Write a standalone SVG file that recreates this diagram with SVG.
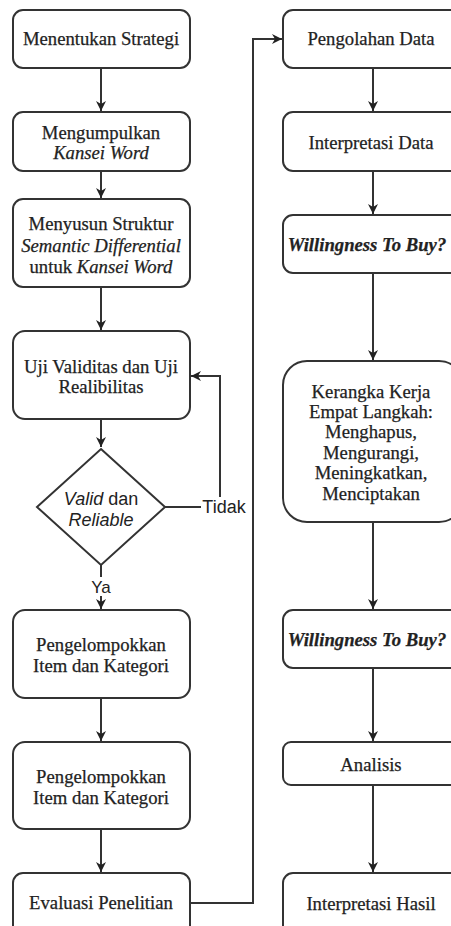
<svg xmlns="http://www.w3.org/2000/svg" width="451" height="926" viewBox="0 0 451 926">
<style>
.box{fill:#fff;stroke:#333;stroke-width:2}
.edge{fill:none;stroke:#333;stroke-width:2}
.t{font-family:"Liberation Serif","Times New Roman",serif;font-size:18.7px;fill:#222;stroke:#222;stroke-width:0.25;text-anchor:middle}
.s{font-family:"Liberation Sans",Arial,sans-serif;font-size:18px;fill:#222;text-anchor:middle}
.i{font-style:italic}
</style>
<defs>
<marker id="arr" viewBox="0 0 10 10" refX="10" refY="5" markerWidth="5" markerHeight="5" orient="auto" markerUnits="strokeWidth">
<path d="M0,0 L10,5 L0,10 L3,5 z" fill="#222"/>
</marker>
</defs>
<rect width="451" height="926" fill="#fff"/>
<g id="connectors">
<path class="edge" d="M101,68 V111" marker-end="url(#arr)"/>
<path class="edge" d="M101,171 V198" marker-end="url(#arr)"/>
<path class="edge" d="M101,287 V330" marker-end="url(#arr)"/>
<path class="edge" d="M101,419 V447" marker-end="url(#arr)"/>
<path class="edge" d="M165,507 H220 V376 H191" marker-end="url(#arr)"/>
<path class="edge" d="M101,565 V609" marker-end="url(#arr)"/>
<path class="edge" d="M101,698 V741" marker-end="url(#arr)"/>
<path class="edge" d="M101,829 V872" marker-end="url(#arr)"/>
<path class="edge" d="M190,903 H253 V39 H282" marker-end="url(#arr)"/>
<path class="edge" d="M373,68 V111" marker-end="url(#arr)"/>
<path class="edge" d="M373,171 V214" marker-end="url(#arr)"/>
<path class="edge" d="M373,273 V360" marker-end="url(#arr)"/>
<path class="edge" d="M373,522 V609" marker-end="url(#arr)"/>
<path class="edge" d="M373,668 V741" marker-end="url(#arr)"/>
<path class="edge" d="M373,785 V872" marker-end="url(#arr)"/>
<rect x="201" y="497" width="46" height="20" fill="#fff"/>
<text class="s" x="224" y="513">Tidak</text>
<rect x="90" y="577" width="22" height="19" fill="#fff"/>
<text class="s" x="101" y="593" style="font-size:17px">Ya</text>
</g>
<g id="n1"><rect class="box" x="13" y="10" width="177" height="58" rx="10"/><text class="t" x="101" y="45">Menentukan Strategi</text></g>
<g id="n2"><rect class="box" x="13" y="112" width="177" height="59" rx="10"/><text class="t" x="101" y="139">Mengumpulkan</text><text class="t i" x="101" y="159">Kansei Word</text></g>
<g id="n3"><rect class="box" x="13" y="199" width="177" height="88" rx="10"/><text class="t" x="101" y="230">Menyusun Struktur</text><text class="t i" x="101" y="252">Semantic Differential</text><text class="t" x="101" y="273">untuk <tspan class="i">Kansei Word</tspan></text></g>
<g id="n4"><rect class="box" x="13" y="331" width="177" height="88" rx="12"/><text class="t" x="101" y="373">Uji Validitas dan Uji</text><text class="t" x="101" y="393">Realibilitas</text></g>
<g id="n5"><path class="box" d="M101,449 L165,507 L101,565 L37,507 Z"/><text class="s" x="101" y="505"><tspan class="i">Valid</tspan> dan</text><text class="s i" x="101" y="526">Reliable</text></g>
<g id="n6"><rect class="box" x="13" y="610" width="177" height="88" rx="12"/><text class="t" x="101" y="651">Pengelompokkan</text><text class="t" x="101" y="672">Item dan Kategori</text></g>
<g id="n7"><rect class="box" x="13" y="742" width="177" height="87" rx="12"/><text class="t" x="101" y="783">Pengelompokkan</text><text class="t" x="101" y="804">Item dan Kategori</text></g>
<g id="n8"><rect class="box" x="13" y="873" width="177" height="70" rx="10"/><text class="t" x="101" y="909">Evaluasi Penelitian</text></g>
<g id="r1"><rect class="box" x="283" y="10" width="180" height="58" rx="10"/><text class="t" x="371" y="45">Pengolahan Data</text></g>
<g id="r2"><rect class="box" x="283" y="112" width="180" height="59" rx="10"/><text class="t" x="371" y="149">Interpretasi Data</text></g>
<g id="r3"><rect class="box" x="283" y="215" width="180" height="58" rx="10"/><text class="t i" x="367" y="251" style="font-weight:bold">Willingness To Buy?</text></g>
<g id="r4"><rect class="box" x="283" y="361" width="180" height="161" rx="24"/><text class="t" x="371" y="398">Kerangka Kerja</text><text class="t" x="371" y="418">Empat Langkah:</text><text class="t" x="371" y="438">Menghapus,</text><text class="t" x="371" y="459">Mengurangi,</text><text class="t" x="371" y="479">Meningkatkan,</text><text class="t" x="371" y="500">Menciptakan</text></g>
<g id="r5"><rect class="box" x="283" y="610" width="180" height="58" rx="10"/><text class="t i" x="367" y="646" style="font-weight:bold">Willingness To Buy?</text></g>
<g id="r6"><rect class="box" x="283" y="742" width="180" height="43" rx="8"/><text class="t" x="371" y="771">Analisis</text></g>
<g id="r7"><rect class="box" x="283" y="873" width="180" height="70" rx="10"/><text class="t" x="371" y="910">Interpretasi Hasil</text></g>
</svg>
